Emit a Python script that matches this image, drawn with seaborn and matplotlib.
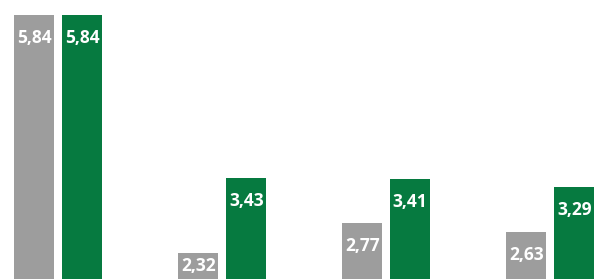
import matplotlib
matplotlib.use("Agg")
import matplotlib.pyplot as plt
import seaborn as sns
import pandas as pd

groups = ["A", "B", "C", "D"]
series = ["Serie 1", "Serie 2"]
values_gray = [5.84, 2.32, 2.77, 2.63]
values_green = [5.84, 3.43, 3.41, 3.29]
labels_gray = ["5,84", "2,32", "2,77", "2,63"]
labels_green = ["5,84", "3,43", "3,41", "3,29"]
colors = ["#9d9d9d", "#067a40"]

df = pd.DataFrame({
    "group": groups * 2,
    "series": [series[0]] * 4 + [series[1]] * 4,
    "value": values_gray + values_green,
})

sns.set_theme(style="white")
plt.rcParams["font.family"] = ["Open Sans", "DejaVu Sans"]

fig = plt.figure(figsize=(6.05, 2.79), dpi=100)
ax = fig.add_axes([0, 0, 1, 1])
sns.barplot(data=df, x="group", y="value", hue="series", palette=colors,
            width=0.585, gap=0.167, legend=False, ax=ax, errorbar=None,
            saturation=1, edgecolor="none")
ax.set_xlim(-0.355, 3.334)
ax.set_ylim(1.935, 6.06)
ax.axis("off")

fig.canvas.draw()
labels_all = [labels_gray, labels_green]
for ci, cont in enumerate(ax.containers):
    for bi, bar in enumerate(cont):
        x = bar.get_x() + bar.get_width() / 2
        top = bar.get_height() + bar.get_y()
        ytop_px = ax.transData.transform((x, top))[1]
        ybot_px = ax.transData.transform((x, 1.935))[1]
        vis = ytop_px - ybot_px
        off_px = min(23, vis / 2)
        ax.annotate(labels_all[ci][bi], (x, top), xytext=(0, -off_px * 72 / 100),
                    textcoords="offset points", ha="center", va="center",
                    color="white", fontsize=12.5, fontweight="bold")

fig.savefig("out.png", dpi=100)
